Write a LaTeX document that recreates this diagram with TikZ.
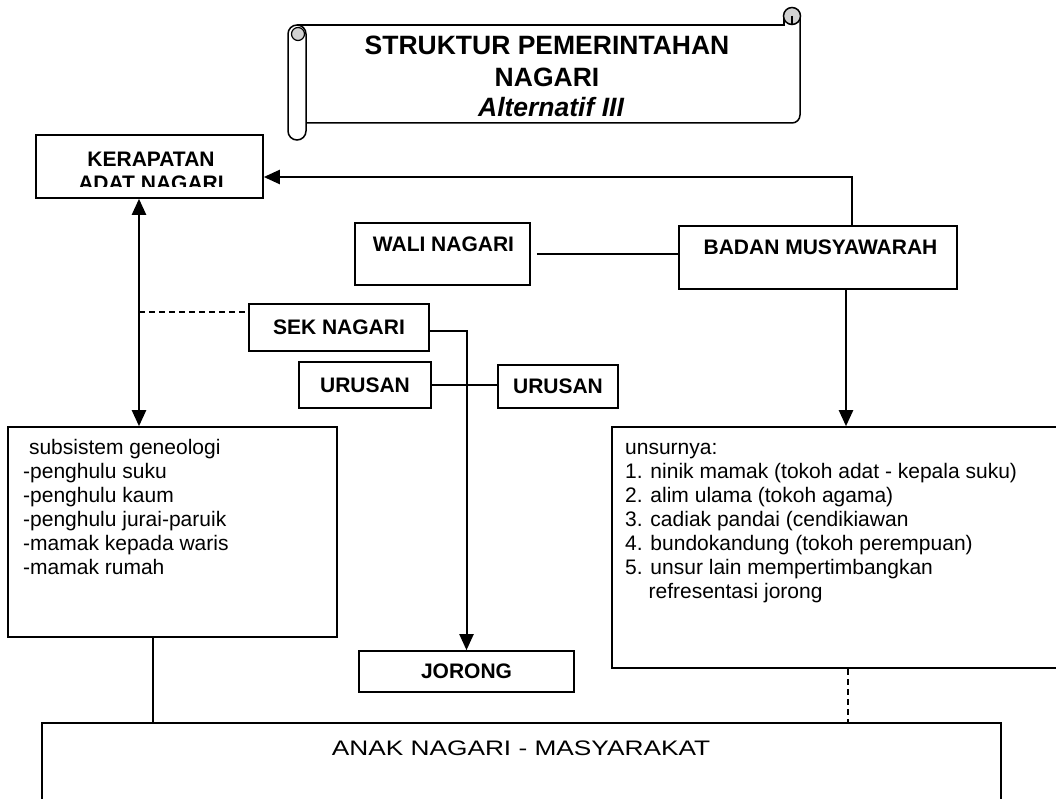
\documentclass[tikz,border=0pt]{standalone}
\usepackage{fontspec}
\setmainfont{Liberation Sans}
\usetikzlibrary{arrows.meta}

\begin{document}
\begin{tikzpicture}[x=1pt, y=-1pt,
    kotak/.style={draw, line width=1.6pt, inner sep=0pt},
    judul/.style={font=\fontsize{21}{24}\selectfont\bfseries},
    isi/.style={font=\fontsize{21}{24}\selectfont, align=left, anchor=base west, inner sep=0pt},
    panah/.style={line width=2.3pt, -{Triangle[length=16pt,width=14pt]}},
    panahdua/.style={line width=2.3pt, {Triangle[length=16pt,width=14pt]}-{Triangle[length=16pt,width=14pt]}},
    garis/.style={line width=1.3pt},
    putus/.style={line width=1.3pt, dash pattern=on 6pt off 4pt}]

\clip (0,0) rectangle (1056,799);
\fill[white] (0,0) rectangle (1056,799);

\draw[line width=1.5pt] (297,25) -- (784,25) -- (784,16);
\draw[line width=1.5pt, rounded corners=8pt] (800,16) -- (800,123) -- (306,123);
\filldraw[line width=1.5pt, fill=gray!35] (792,16) circle (8.5);
\draw[line width=1.3pt] (792,16) -- (792,25);
\filldraw[line width=1.5pt, fill=white, rounded corners=9pt] (288,25) rectangle (306,140);
\filldraw[line width=1.2pt, fill=gray!35] (298,34) circle (6.5);

\node[anchor=base, font=\fontsize{26.5}{31}\selectfont\bfseries] (judul1) at (547,55) {STRUKTUR PEMERINTAHAN};
\node[anchor=base, font=\fontsize{26.5}{31}\selectfont\bfseries] (judul2) at (547,87) {NAGARI};
\node[anchor=base, font=\fontsize{26.5}{31}\selectfont\bfseries\itshape] (judul3) at (551,117) {Alternatif III};

\node[kotak, minimum width=227pt, minimum height=63pt] (kan) at (149.5,166.5) {};
\begin{scope}
    \clip (36,135) rectangle (263,187);
    \node[judul, align=center, anchor=base] (kantxt) at (151,191) {KERAPATAN\\ADAT NAGARI};
\end{scope}

\node[kotak, minimum width=175pt, minimum height=62pt] (wali) at (442.5,254) {};
\node[judul, anchor=base] (walitxt) at (443.5,252) {WALI NAGARI};
\node[kotak, minimum width=278pt, minimum height=63pt] (badan) at (818,257.5) {};
\node[judul, anchor=base] (badantxt) at (820.5,255) {BADAN MUSYAWARAH};

\node[kotak, judul, minimum width=180pt, minimum height=47pt] (sek) at (339,327.5) {SEK NAGARI};
\node[kotak, judul, minimum width=132pt, minimum height=46pt] (urusan1) at (365,385) {URUSAN};
\node[kotak, judul, minimum width=120pt, minimum height=43pt] (urusan2) at (558,386.5) {URUSAN};
\node[kotak, judul, minimum width=215pt, minimum height=41pt] (jorong) at (466.5,671.5) {JORONG};

\node[kotak, minimum width=329pt, minimum height=210pt] (geneo) at (172.5,532) {};
\node[isi] (geneotxt) at (23,574) {\ subsistem geneologi\\-penghulu suku\\-penghulu kaum\\-penghulu jurai-paruik\\-mamak kepada waris\\-mamak rumah};

\node[kotak, minimum width=458pt, minimum height=241pt] (unsur) at (841,547.5) {};
\node[isi] (unsurtxt) at (625,598) {unsurnya:\\1. ninik mamak (tokoh adat - kepala suku)\\2. alim ulama (tokoh agama)\\3. cadiak pandai (cendikiawan\\4. bundokandung (tokoh perempuan)\\5. unsur lain mempertimbangkan\\\hspace*{23.4pt}refresentasi jorong};

\node[kotak, minimum width=959pt, minimum height=177pt] (anak) at (521.5,811.5) {};
\node[anchor=base, font=\fontsize{21}{24}\selectfont] (anaktxt) at (521,755) {\scalebox{1.25}[1]{ANAK NAGARI - MASYARAKAT}};

\coordinate (ka) at (852,177);
\coordinate (kx) at (139,312);
\coordinate (sj) at (467,331);
\coordinate (bx) at (846,0);
\coordinate (gx) at (153,0);
\coordinate (ux) at (848,0);

\draw[panah] (badan.north -| ka) |- (kan.east |- ka);
\draw[garis] ([xshift=6pt]wali.east) -- (badan.west |- wali.east);
\draw[panahdua] (kan.south -| kx) -- (geneo.north -| kx);
\draw[putus] (kx) -- (sek.west |- kx);
\draw[panah, line width=2pt] (sek.east |- sj) -| (jorong.north);
\draw[garis] (urusan1.east) -- (urusan2.west |- urusan1.east);
\draw[panah] (badan.south -| bx) -- (unsur.north -| bx);
\draw[garis] (geneo.south -| gx) -- (anak.north -| gx);
\draw[putus] (unsur.south -| ux) -- (anak.north -| ux);

\end{tikzpicture}
\end{document}
